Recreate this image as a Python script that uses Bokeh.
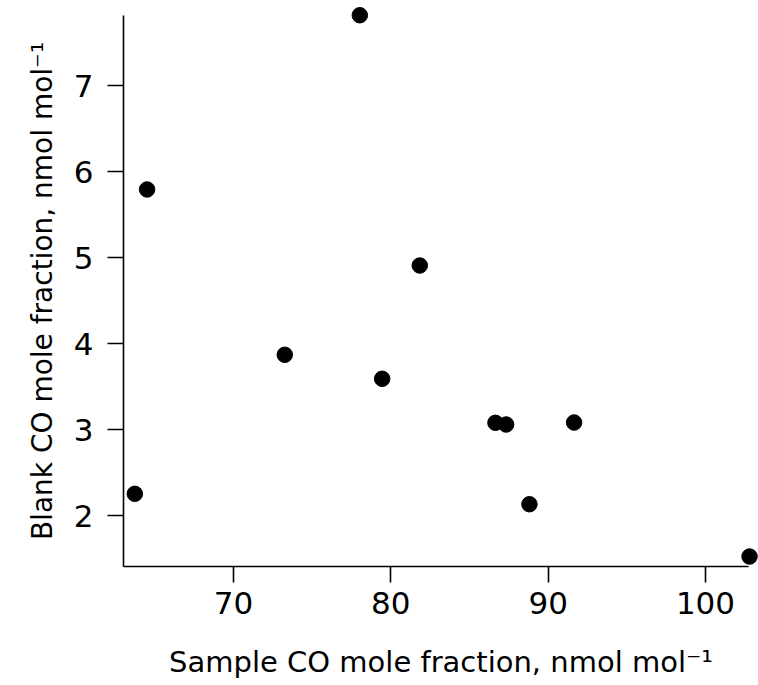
from bokeh.plotting import figure
from bokeh.models import Range1d, FixedTicker, ColumnDataSource
from bokeh.embed import file_html
from bokeh.resources import INLINE

# Data
sample_co = [63.73, 64.51, 73.26, 78.03, 79.45, 81.84, 86.65, 87.33, 88.81, 91.65, 102.80]
blank_co = [2.252, 5.791, 3.869, 7.817, 3.590, 4.907, 3.078, 3.058, 2.131, 3.081, 1.523]

x_ticks = [70, 80, 90, 100]
y_ticks = [2, 3, 4, 5, 6, 7]

x_label = "Sample CO mole fraction, nmol mol\u207b\u00b9"
y_label = "Blank CO mole fraction, nmol mol\u207b\u00b9"

FONT = "DejaVu Sans"

p = figure(
    width=758, height=685,
    output_backend="svg", toolbar_location=None,
    x_range=Range1d(63.01, 103.37), y_range=Range1d(1.407, 7.814),
    min_border_left=123, min_border_right=0, min_border_top=15, min_border_bottom=119,
)
p.outline_line_color = None
p.xgrid.visible = False
p.ygrid.visible = False
p.background_fill_color = "white"
p.border_fill_color = "white"

src = ColumnDataSource(dict(x=sample_co, y=blank_co))
p.scatter("x", "y", source=src, size=15.5, fill_color="black", line_color="black",
          level="overlay")

for ax, ticks, bounds, label in (
    (p.xaxis[0], x_ticks, (63.01, 102.75), x_label),
    (p.yaxis[0], y_ticks, (1.407, 7.814), y_label),
):
    ax.ticker = FixedTicker(ticks=ticks)
    ax.bounds = bounds
    ax.axis_label = label
    ax.axis_line_color = "black"
    ax.axis_line_width = 1.6
    ax.major_tick_line_color = "black"
    ax.major_tick_line_width = 1.6
    ax.major_tick_out = 16
    ax.major_tick_in = 0
    ax.minor_tick_line_color = None
    ax.major_label_text_font = FONT
    ax.major_label_text_font_size = "31px"
    ax.major_label_text_color = "black"
    ax.axis_label_text_font = FONT
    ax.axis_label_text_font_size = "29px"
    ax.axis_label_text_font_style = "normal"
    ax.axis_label_text_color = "black"

p.yaxis[0].axis_label_text_font_size = "28px"
p.xaxis[0].major_label_standoff = 9
p.xaxis[0].axis_label_standoff = 28
p.yaxis[0].major_label_standoff = 14
p.yaxis[0].axis_label_standoff = 12

open("out.html", "w").write(file_html(p, INLINE))
